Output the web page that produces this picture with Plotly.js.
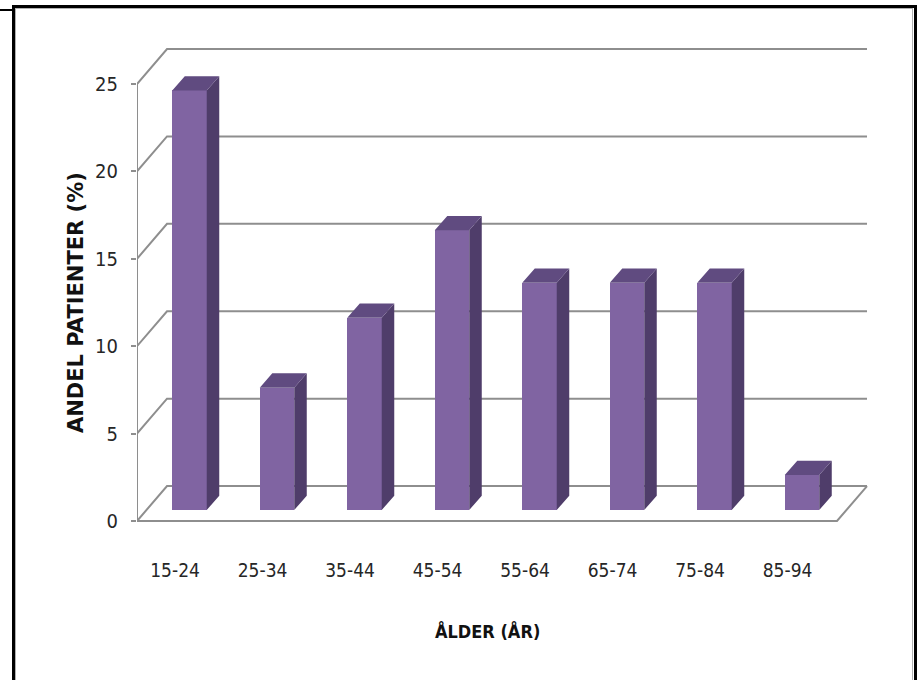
<!DOCTYPE html>
<html>
<head>
<meta charset="utf-8">
<script src="https://cdn.plot.ly/plotly-3.0.1.min.js"></script>
<style>
  html, body { margin: 0; padding: 0; background: #fff; }
  #wrap { position: relative; width: 922px; height: 680px; overflow: hidden; }
  #chart { position: absolute; left: 0; top: 0; width: 922px; height: 680px; }
  #frame { position: absolute; left: 12px; top: 5px; width: 899px; height: 700px;
           border: 3px solid #000; border-bottom: none; pointer-events: none; }
  #frameInner { position: absolute; left: 15px; top: 8px; width: 896px; height: 700px;
           border: 1px solid #b0b0b0; border-bottom: none; pointer-events: none; }
  #tick { position: absolute; left: 0; top: 9px; width: 13px; height: 0;
          border-top: 2px solid #000; pointer-events: none; }
</style>
</head>
<body>
<div id="wrap">
  <div id="chart"></div>
  <div id="frameInner"></div>
  <div id="frame"></div>
  <div id="tick"></div>
</div>
<script>
// ---- data ----
const categories = ['15-24', '25-34', '35-44', '45-54', '55-64', '65-74', '75-84', '85-94'];
const values = [24, 7, 11, 16, 13, 13, 13, 2];
const yTicks = [0, 5, 10, 15, 20, 25];
const yTickText = ['0', '5', '10', '15', '20', '25'];
const xTitle = 'ÅLDER (ÅR)';
const yTitle = 'ANDEL PATIENTER (%)';

// ---- 3D-look geometry (in axis units) ----
const DEPTH_X = 0.343, DEPTH_Y = 2.0;      // full floor depth
const FACE_X = 0.10, FACE_Y = 0.63;        // bar front face position within depth
const SIDE_X = 0.143, SIDE_Y = 0.82;       // bar depth
const BAR_W = 0.394;
const LABEL_SHIFT = -0.065;
const xLeft = -0.5, nCat = categories.length;

const frontColor = '#8064A2', sideColor = '#4F3D6A', topColor = '#604B80';
const gridColor = '#8E8E8E';

// front faces through the bar trace
const barTrace = {
  type: 'bar',
  x: categories.map((c, i) => i + FACE_X),
  y: values,
  base: values.map(() => FACE_Y),
  width: BAR_W,
  marker: { color: frontColor, line: { width: 0 } },
  hoverinfo: 'skip',
  showlegend: false
};

// side & top faces computed from values
const sideX = [], sideY = [], topX = [], topY = [];
values.forEach((v, i) => {
  const xl = i + FACE_X - BAR_W / 2, xr = i + FACE_X + BAR_W / 2;
  const b = FACE_Y, t = FACE_Y + v;
  sideX.push(xr, xr, xr + SIDE_X, xr + SIDE_X, xr, null);
  sideY.push(b, t, t + SIDE_Y, b + SIDE_Y, b, null);
  topX.push(xl, xr, xr + SIDE_X, xl + SIDE_X, xl, null);
  topY.push(t, t, t + SIDE_Y, t + SIDE_Y, t, null);
});
const sideTrace = { type: 'scatter', mode: 'lines', x: sideX, y: sideY, fill: 'toself',
  fillcolor: sideColor, line: { width: 0, color: sideColor }, hoverinfo: 'skip', showlegend: false };
const topTrace = { type: 'scatter', mode: 'lines', x: topX, y: topY, fill: 'toself',
  fillcolor: topColor, line: { width: 0, color: topColor }, hoverinfo: 'skip', showlegend: false };

// walls / gridlines as shapes behind the bars
const shapes = [];
yTicks.forEach(v => {
  shapes.push({
    type: 'path', xref: 'x', yref: 'y', layer: 'below',
    path: `M ${xLeft} ${v} L ${xLeft + DEPTH_X} ${v + DEPTH_Y} L ${xLeft + DEPTH_X + nCat} ${v + DEPTH_Y}`,
    line: { color: gridColor, width: 2 }
  });
});
// left axis line
shapes.push({ type: 'line', xref: 'x', yref: 'y', layer: 'below',
  x0: xLeft, y0: 0, x1: xLeft, y1: yTicks[yTicks.length - 1], line: { color: gridColor, width: 2 } });
// floor front and right edges
shapes.push({ type: 'path', xref: 'x', yref: 'y', layer: 'below',
  path: `M ${xLeft} 0 L ${xLeft + nCat} 0 L ${xLeft + nCat + DEPTH_X} ${DEPTH_Y}`,
  line: { color: gridColor, width: 2 } });

const narrow = '"Liberation Sans Narrow", "DejaVu Sans Condensed", sans-serif';
const tickFont = { family: narrow, size: 19, color: '#262626' };

const layout = {
  width: 922, height: 680,
  margin: { l: 137, r: 22, t: 30, b: 127 },
  paper_bgcolor: 'rgba(0,0,0,0)', plot_bgcolor: 'rgba(0,0,0,0)',
  bargap: 0,
  xaxis: {
    range: [-0.5, 8.22], showgrid: false, zeroline: false, showline: false,
    tickmode: 'array', tickvals: categories.map((c, i) => i + LABEL_SHIFT), ticktext: categories,
    ticks: '', ticklabelstandoff: 4, tickfont: tickFont, fixedrange: true
  },
  yaxis: {
    range: [-1.83, 28.09], showgrid: false, zeroline: false, showline: false,
    tickmode: 'array', tickvals: yTicks, ticktext: yTickText,
    ticks: 'outside', ticklen: 5, tickwidth: 2, tickcolor: gridColor,
    ticklabelstandoff: 9, tickfont: { ...tickFont, size: 20 }, fixedrange: true
  },
  shapes: shapes,
  annotations: [
    { text: '<b>' + yTitle + '</b>', xref: 'paper', yref: 'paper',
      x: (76 - 137) / 763, y: (553 - 303) / 523, xanchor: 'center', yanchor: 'middle',
      textangle: -90, showarrow: false,
      font: { family: '"DejaVu Sans", sans-serif', size: 21, color: '#111' } },
    { text: '<b>' + xTitle + '</b>', xref: 'paper', yref: 'paper',
      x: (487 - 137) / 763, y: (553 - 631) / 523, xanchor: 'center', yanchor: 'middle',
      showarrow: false,
      font: { family: narrow, size: 18, color: '#111' } }
  ],
  showlegend: false
};

Plotly.newPlot('chart', [barTrace, sideTrace, topTrace], layout, { displayModeBar: false, staticPlot: true });
</script>
</body>
</html>
